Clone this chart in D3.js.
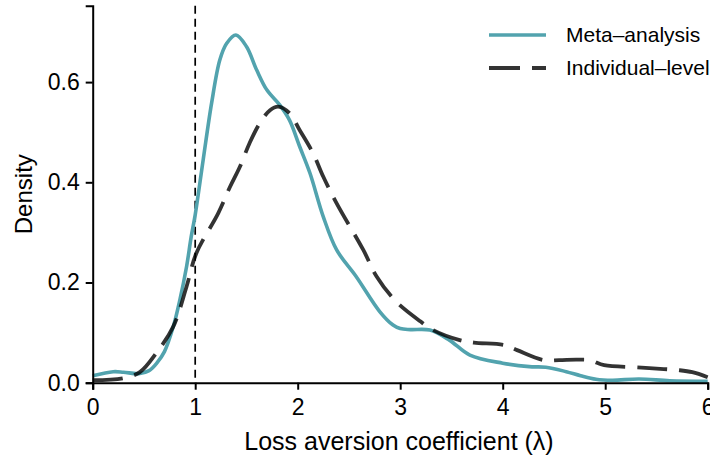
<!DOCTYPE html>
<html>
<head>
<meta charset="utf-8">
<script src="https://cdn.jsdelivr.net/npm/d3@7"></script>
<style>
  body { margin: 0; background: #fff; }
  svg { display: block; }
  text { font-family: "Liberation Sans", Arial, Helvetica, sans-serif; fill: #000; }
</style>
</head>
<body>
<svg id="chart" width="710" height="457"></svg>
<script>
// ---- data ----
const seriesNames = ["Meta\u2013analysis", "Individual\u2013level"];
const xTicks = [0, 1, 2, 3, 4, 5, 6];
const yTicks = [0.0, 0.2, 0.4, 0.6];
const refLine = 1;

const metaX = [0, 0.2, 0.3, 0.45, 0.55, 0.625, 0.7, 0.786, 0.85, 0.916, 0.96, 1.0, 1.078, 1.16, 1.24, 1.306, 1.397, 1.5, 1.6, 1.7, 1.826, 1.92, 2.02, 2.12, 2.25, 2.38, 2.57, 2.8, 2.93, 3.0, 3.1, 3.29, 3.48, 3.68, 4.0, 4.26, 4.42, 4.62, 4.76, 4.91, 5.07, 5.33, 5.63, 6.0];
const metaY = [0.014, 0.022, 0.021, 0.018, 0.024, 0.039, 0.062, 0.112, 0.165, 0.232, 0.29, 0.335, 0.445, 0.558, 0.644, 0.677, 0.694, 0.671, 0.624, 0.584, 0.554, 0.524, 0.471, 0.418, 0.331, 0.265, 0.212, 0.142, 0.115, 0.108, 0.106, 0.105, 0.085, 0.055, 0.039, 0.032, 0.031, 0.022, 0.014, 0.007, 0.005, 0.0074, 0.004, 0.003];

const indivX = [0, 0.3, 0.46, 0.62, 0.786, 0.916, 1.01, 1.224, 1.34, 1.436, 1.53, 1.63, 1.73, 1.81, 1.92, 2.02, 2.15, 2.25, 2.38, 2.64, 2.77, 2.96, 3.2, 3.32, 3.58, 3.72, 4.02, 4.14, 4.4, 4.55, 4.72, 4.85, 4.99, 5.28, 5.43, 5.72, 5.85, 6.0];
const indivY = [0.005, 0.009, 0.021, 0.059, 0.112, 0.192, 0.258, 0.338, 0.391, 0.431, 0.478, 0.518, 0.544, 0.551, 0.538, 0.504, 0.458, 0.411, 0.358, 0.265, 0.212, 0.162, 0.122, 0.105, 0.085, 0.080, 0.075, 0.065, 0.045, 0.045, 0.046, 0.045, 0.035, 0.031, 0.029, 0.025, 0.021, 0.011];

const colors = ["#52a3ae", "#000000"];

// ---- layout ----
const svg = d3.select("#chart");
const mLeft = 92.7, mRight = 707.7, mTop = 5.7, mBottom = 382.7;
const x = d3.scaleLinear().domain([0, 6]).range([mLeft, mRight]);
const y = d3.scaleLinear().domain([0, 0.7525]).range([mBottom, mTop]);

const tickFont = 23, titleFont = 25, legendFont = 21;

// reference line
svg.append("line")
  .attr("x1", x(refLine)).attr("x2", x(refLine))
  .attr("y1", y(y.domain()[1])).attr("y2", y(0))
  .attr("stroke", "#000").attr("stroke-width", 1.7)
  .attr("stroke-dasharray", "8,5");

const line = d3.line().x(d => x(d[0])).y(d => y(d[1])).curve(d3.curveCatmullRom.alpha(0.5));

svg.append("path")
  .datum(metaX.map((v, i) => [v, metaY[i]]))
  .attr("d", line)
  .attr("fill", "none").attr("stroke", colors[0]).attr("stroke-width", 3.6);

svg.append("path")
  .datum(indivX.map((v, i) => [v, indivY[i]]))
  .attr("d", line)
  .attr("fill", "none").attr("stroke", colors[1]).attr("stroke-opacity", 0.8)
  .attr("stroke-width", 3.8).attr("stroke-dasharray", "30,12");

// axes
const xAxis = svg.append("g").attr("transform", `translate(0,${mBottom})`)
  .call(d3.axisBottom(x).tickValues(xTicks).tickFormat(d3.format("d")).tickSizeOuter(0).tickSize(7).tickPadding(9));
const yAxis = svg.append("g").attr("transform", `translate(${mLeft},0)`)
  .call(d3.axisLeft(y).tickValues(yTicks).tickFormat(d3.format(".1f")).tickSizeOuter(0).tickSize(7).tickPadding(6));
[xAxis, yAxis].forEach(g => {
  g.select(".domain").attr("stroke", "#000").attr("stroke-width", 2);
  g.selectAll(".tick line").attr("stroke", "#000").attr("stroke-width", 2);
  g.selectAll(".tick text").attr("font-size", tickFont).attr("font-family", "Liberation Sans, Arial, sans-serif").attr("fill", "#000");
});

// axis titles
svg.append("text")
  .attr("x", 399).attr("y", 450)
  .attr("text-anchor", "middle").attr("font-size", titleFont)
  .text("Loss aversion coefficient (\u03bb)");
svg.append("text")
  .attr("transform", `translate(32,${(mTop + mBottom) / 2}) rotate(-90)`)
  .attr("text-anchor", "middle").attr("font-size", 24)
  .text("Density");

// legend
const legendY = [35, 68];
seriesNames.forEach((name, i) => {
  const g = svg.append("g");
  g.append("line")
    .attr("x1", 489).attr("x2", 546).attr("y1", legendY[i]).attr("y2", legendY[i])
    .attr("stroke", colors[i]).attr("stroke-width", i === 0 ? 3.6 : 3.8)
    .attr("stroke-opacity", i === 0 ? 1 : 0.8)
    .attr("stroke-dasharray", i === 0 ? null : "31,12");
  g.append("text")
    .attr("x", 566).attr("y", legendY[i]).attr("dy", "0.35em")
    .attr("font-size", legendFont)
    .text(name);
});
</script>
</body>
</html>
